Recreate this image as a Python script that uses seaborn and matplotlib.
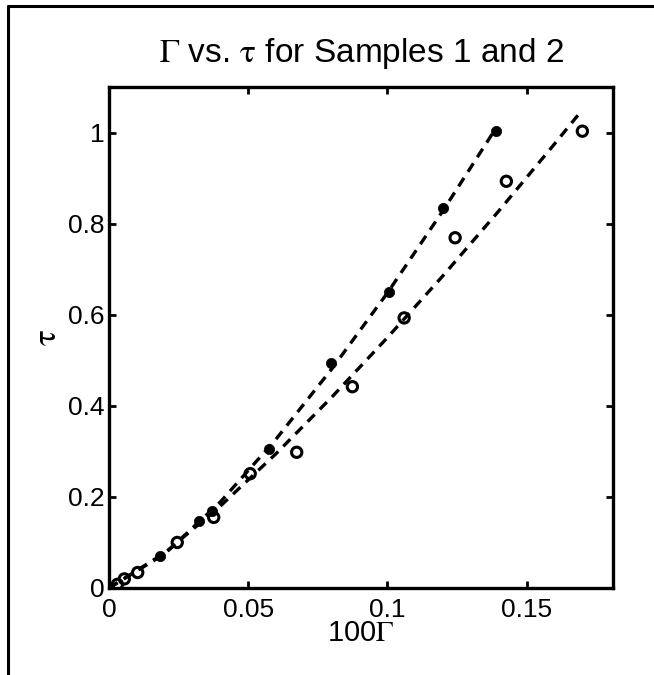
import numpy as np
import pandas as pd
import seaborn as sns
import matplotlib
matplotlib.use("Agg")
import matplotlib.pyplot as plt
from matplotlib.lines import Line2D

# -----------------------------
# data
# -----------------------------
# Sample 1 (filled dots)
s1_gamma = [0.0183, 0.0323, 0.0370, 0.0573, 0.0799, 0.1005, 0.1198, 0.1390]
s1_tau = [0.070, 0.148, 0.168, 0.306, 0.494, 0.650, 0.834, 1.003]

# Sample 2 (open circles)
s2_gamma = [0.0030, 0.0055, 0.0103, 0.0245, 0.0376, 0.0507, 0.0674,
            0.0874, 0.1060, 0.1243, 0.1427, 0.1700]
s2_tau = [0.008, 0.020, 0.034, 0.100, 0.155, 0.251, 0.298,
          0.442, 0.593, 0.769, 0.893, 1.003]

# dashed fit curves
fit1_gamma = [0.0, 0.02, 0.04, 0.06, 0.08, 0.10, 0.12, 0.139]
fit1_tau = [0.0, 0.075, 0.189, 0.327, 0.481, 0.648, 0.829, 1.01]
fit2_gamma = [0.0, 0.02, 0.04, 0.06, 0.08, 0.10, 0.12, 0.14, 0.16, 0.170]
fit2_tau = [0.0, 0.077, 0.180, 0.295, 0.419, 0.550, 0.686, 0.828, 0.975, 1.05]

x_ticks = [0, 0.05, 0.1, 0.15]
x_ticklabels = ["0", "0.05", "0.1", "0.15"]
y_ticks = [0, 0.2, 0.4, 0.6, 0.8, 1.0]
y_ticklabels = ["0", "0.2", "0.4", "0.6", "0.8", "1"]

# -----------------------------
# style
# -----------------------------
sns.set_style("ticks")
plt.rcParams["font.family"] = ["Liberation Sans", "DejaVu Sans"]
plt.rcParams["mathtext.fontset"] = "stix"
plt.rcParams["text.color"] = "black"
plt.rcParams["axes.labelcolor"] = "black"

fig = plt.figure(figsize=(6.54, 6.75), dpi=100)
ax = fig.add_axes([0.1667, 0.1289, 0.7706, 0.7422])

# fit lines
for gx, ty in [(fit1_gamma, fit1_tau), (fit2_gamma, fit2_tau)]:
    sns.lineplot(x=gx, y=ty, ax=ax, color="black", linewidth=2.4,
                 sort=False, estimator=None)
for line in ax.lines:
    line.set_dashes((3.0, 2.2))

# markers
df1 = pd.DataFrame({"gamma": s1_gamma, "tau": s1_tau})
df2 = pd.DataFrame({"gamma": s2_gamma, "tau": s2_tau})
sns.scatterplot(data=df1, x="gamma", y="tau", ax=ax, color="black",
                s=55, marker="o", edgecolor="black", linewidth=0.5, zorder=3)
sns.scatterplot(data=df2, x="gamma", y="tau", ax=ax, facecolor="none",
                s=55, marker="o", edgecolor="black", linewidth=2.2, zorder=3)

ax.set_xlim(0, 0.181)
ax.set_ylim(0, 1.1)
ax.set_xticks(x_ticks)
ax.set_xticklabels(x_ticklabels)
ax.set_yticks(y_ticks)
ax.set_yticklabels(y_ticklabels)
ax.tick_params(direction="in", length=5, width=2, top=True, right=True,
               labelsize=19, colors="black", pad=3)
ax.tick_params(axis="x", pad=7)
for sp in ax.spines.values():
    sp.set_visible(True)
    sp.set_linewidth(2.4)
    sp.set_color("black")

ax.set_title(r"$\Gamma$ vs. $\mathrm{\tau}$ for Samples 1 and 2", fontsize=24, pad=18)
ax.set_xlabel(r"100$\Gamma$", fontsize=21, labelpad=-2)
ax.set_ylabel(r"$\mathrm{\tau}$", fontsize=24, labelpad=4)

# outer frame (left and top edges only)
fig.add_artist(Line2D([0.012, 0.012], [0.0, 0.991], color="black", linewidth=2.2))
fig.add_artist(Line2D([0.012, 1.0], [0.991, 0.991], color="black", linewidth=2.2))

fig.savefig("out.png", dpi=100)
